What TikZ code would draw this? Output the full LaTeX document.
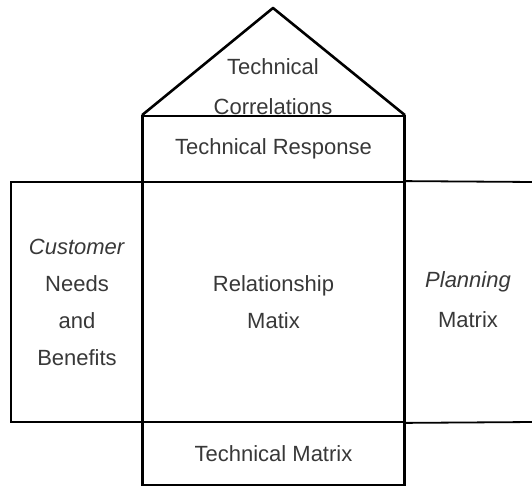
\documentclass[tikz,border=0pt]{standalone}
\usepackage{fontspec}
\setmainfont{Liberation Sans}
\usetikzlibrary{positioning}

\begin{document}
\begin{tikzpicture}[
    x=1pt, y=-1pt,
    box/.style={draw, line width=1.8pt, rectangle, inner sep=0pt, align=center,
        text=black!78, font=\fontsize{22}{37}\selectfont},
    txt/.style={align=center, text=black!78, font=\fontsize{22}{40}\selectfont},
    wall/.style={line width=2.8pt}
]
\useasboundingbox (0,0) rectangle (532,486);

% Haus: Zeilen von oben nach unten
\node[box, minimum width=261pt, minimum height=66pt] (resp) at (273.5,149) {Technical Response};
\node[box, minimum width=261pt, minimum height=240pt] (rel) at (273.5,302) {Relationship\\Matix};
\node[box, minimum width=132pt, minimum height=240pt] (cust) at (77,302) {\textit{Customer}\\Needs\\and\\Benefits};
\node[box, minimum width=261pt, minimum height=63pt] (tmat) at (273.5,453.5) {Technical Matrix};

% Dach
\coordinate (apex) at (273,8);
\draw[line width=2.6pt, line join=round] (resp.north west) -- (apex) -- (resp.north east);
\node[txt] (corr) at (273,87) {Technical\\Correlations};

% rechte Seite, offen zum Rand
\coordinate (rtop) at (534,182);
\coordinate (rbot) at (534,422);
\draw[line width=1.8pt] (rel.north east) -- (rtop);
\draw[line width=1.8pt] (rel.south east) -- (rbot);
\node[txt] (plan) at (468,300) {\textit{Planning}\\Matrix};

% dicke Waende
\draw[wall] (resp.north west) -- (tmat.south west);
\draw[wall] (resp.north east) -- (tmat.south east);

\end{tikzpicture}
\end{document}
